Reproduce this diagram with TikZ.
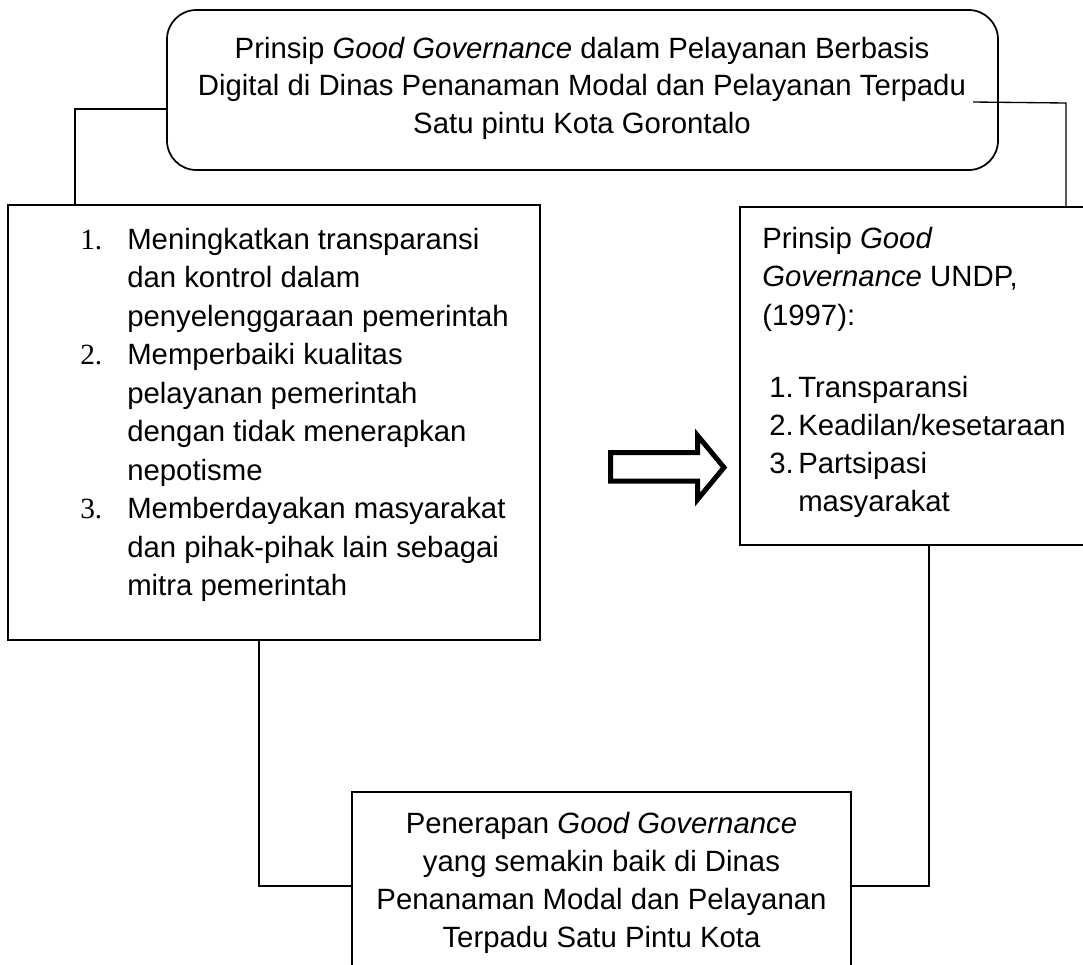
\documentclass[tikz,border=0pt]{standalone}
\usepackage{fontspec}
\setmainfont{Liberation Sans}
\newfontfamily\serifnum{Liberation Serif}
\begin{document}
\begin{tikzpicture}[x=0.75pt,y=-0.75pt,
  box/.style={draw, line width=1.3pt, fill=white, inner sep=0pt},
  link/.style={line width=1pt},
  lt/.style={anchor=base west, inner sep=0pt, font=\fontsize{22}{28}\selectfont},
  ct/.style={anchor=base, inner sep=0pt, font=\fontsize{22}{28}\selectfont},
  nt/.style={anchor=base west, inner sep=0pt, font=\fontsize{22}{28}\serifnum}]
\useasboundingbox (0,0) rectangle (1083,965);
\clip (0,0) rectangle (1083,965);
% boxes
\node[box, rounded corners=22pt, minimum width=623.25pt, minimum height=120pt] (top) at (582.5,90) {};
\node[box, minimum width=399pt, minimum height=326.25pt] (left) at (274,422.5) {};
\node[box, minimum width=277.5pt, minimum height=253.5pt] (right) at (925,376) {};
\node[box, minimum width=374.25pt, minimum height=156pt] (bottom) at (601.5,896) {};
% connectors
\coordinate (rstart) at (973,102);
\draw[link] (top.west |- 0,109) -- (75,109) -- (left.north -| 75,0);
\draw[link] (rstart) -- (1066,103) -- (right.north -| 1066,0);
\draw[link] (left.south -| 259,0) -- (259,886) -- (bottom.west |- 0,886);
\draw[link] (right.south -| 929,0) -- (929,886) -- (bottom.east |- 0,886);
% block arrow
\draw[line width=3.75pt, fill=white, line join=miter] (610.5,452.5) -- (697.5,452.5) -- (697.5,435.5) -- (724,467.5) -- (697.5,499.5) -- (697.5,481) -- (610.5,481) -- cycle;
% top text
\node[ct] (t1) at (582,58) {Prinsip \textit{Good Governance} dalam Pelayanan Berbasis};
\node[ct] (t2) at (582,95.5) {Digital di Dinas Penanaman Modal dan Pelayanan Terpadu};
\node[ct] (t3) at (582,133) {Satu pintu Kota Gorontalo};
% left text
\node[nt] (n1) at (80,249) {1.};
\node[lt] (l1) at (127,249) {Meningkatkan transparansi};
\node[lt] (l2) at (127,287.5) {dan kontrol dalam};
\node[lt] (l3) at (127,326) {penyelenggaraan pemerintah};
\node[nt] (n2) at (80,364.5) {2.};
\node[lt] (l4) at (127,364.5) {Memperbaiki kualitas};
\node[lt] (l5) at (127,403) {pelayanan pemerintah};
\node[lt] (l6) at (127,441.5) {dengan tidak menerapkan};
\node[lt] (l7) at (127,480) {nepotisme};
\node[nt] (n3) at (80,518.5) {3.};
\node[lt] (l8) at (127,518.5) {Memberdayakan masyarakat};
\node[lt] (l9) at (127,557) {dan pihak-pihak lain sebagai};
\node[lt] (l10) at (127,595.5) {mitra pemerintah};
% right text
\node[lt] (r1) at (762,248) {Prinsip \textit{Good}};
\node[lt] (r2) at (762,286.5) {\textit{Governance} UNDP,};
\node[lt] (r3) at (762,325) {(1997):};
\node[lt] (rn1) at (769,397) {1.};
\node[lt] (r4) at (798,397) {Transparansi};
\node[lt] (rn2) at (769,435) {2.};
\node[lt] (r5) at (798,435) {Keadilan/kesetaraan};
\node[lt] (rn3) at (769,473) {3.};
\node[lt] (r6) at (798,473) {Partsipasi};
\node[lt] (r7) at (798,511) {masyarakat};
% bottom text
\node[ct] (b1) at (601.5,833) {Penerapan \textit{Good Governance}};
\node[ct] (b2) at (601.5,871) {yang semakin baik di Dinas};
\node[ct] (b3) at (601.5,909) {Penanaman Modal dan Pelayanan};
\node[ct] (b4) at (601.5,947) {Terpadu Satu Pintu Kota};
\end{tikzpicture}
\end{document}
